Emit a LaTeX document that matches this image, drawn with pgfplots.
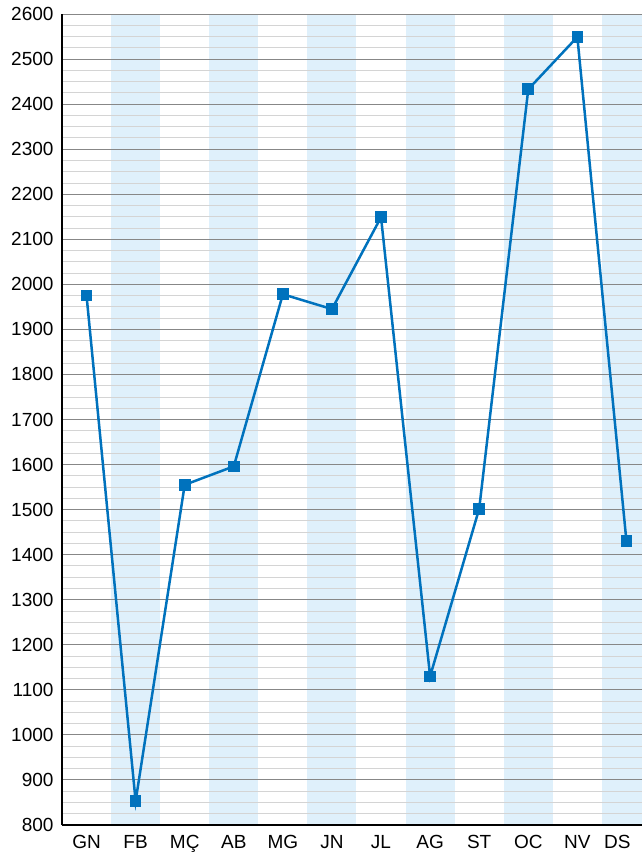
\documentclass[border=0pt]{standalone}
\usepackage{fontspec}
\setmainfont{Liberation Sans}
\usepackage{pgfplots}
\pgfplotsset{compat=1.18}
\definecolor{band}{RGB}{223,240,251}
\definecolor{line}{RGB}{0,114,189}
\definecolor{majgrid}{RGB}{135,135,135}
\definecolor{mingrid}{RGB}{212,212,212}
\begin{document}
\begin{tikzpicture}
\begin{axis}[
  set layers,
  scale only axis,
  width=580pt, height=811pt,
  xmin=-0.5, xmax=11.317,
  ymin=800, ymax=2600,
  xtick={0,...,11},
  xticklabels={GN,FB,MÇ,AB,MG,JN,JL,AG,ST,OC,NV,\hspace*{-18pt}DS},
  ytick={800,900,...,2600},
  minor y tick num=3,
  ymajorgrids, yminorgrids,
  major grid style={majgrid, line width=0.9pt},
  minor grid style={mingrid, line width=0.9pt},
  axis x line*=bottom, axis y line*=left,
  axis line style={black, line width=1.6pt},
  x tick style={draw=none},
  y tick style={draw=none},
  minor y tick style={draw=none},
  extra x ticks={0.5,1.5,...,10.5},
  extra x tick labels={},
  extra x tick style={grid=none, major tick length=11pt, tick style={draw=mingrid!70!gray, line width=1pt}, tick align=inside},
  tick label style={font=\fontsize{19}{19}\selectfont},
  /pgf/number format/assume math mode=true,
  /pgf/number format/1000 sep={},
  yticklabel style={xshift=-5pt},
  xticklabel style={yshift=-7pt},
  clip=false,
]
\begin{pgfonlayer}{axis background}
\fill[band] (axis cs:0.5,800) rectangle (axis cs:1.5,2600);
\fill[band] (axis cs:2.5,800) rectangle (axis cs:3.5,2600);
\fill[band] (axis cs:4.5,800) rectangle (axis cs:5.5,2600);
\fill[band] (axis cs:6.5,800) rectangle (axis cs:7.5,2600);
\fill[band] (axis cs:8.5,800) rectangle (axis cs:9.5,2600);
\fill[band] (axis cs:10.5,800) rectangle (axis cs:11.317,2600);
\end{pgfonlayer}
\addplot[line, line width=2.5pt, mark=square*, mark size=5.3pt, mark options={line width=0pt}] coordinates {
(0,1975) (1,853) (2,1555) (3,1596) (4,1978) (5,1945) (6,2149) (7,1130) (8,1502) (9,2433) (10,2549) (11,1430)
};
\end{axis}
\pgfresetboundingbox
\path (current axis.south west) ++(-62pt,-30pt) coordinate (a);
\path (current axis.north east) ++(0pt,14pt) coordinate (b);
\path[use as bounding box] (a) rectangle (b);
\end{tikzpicture}
\end{document}
